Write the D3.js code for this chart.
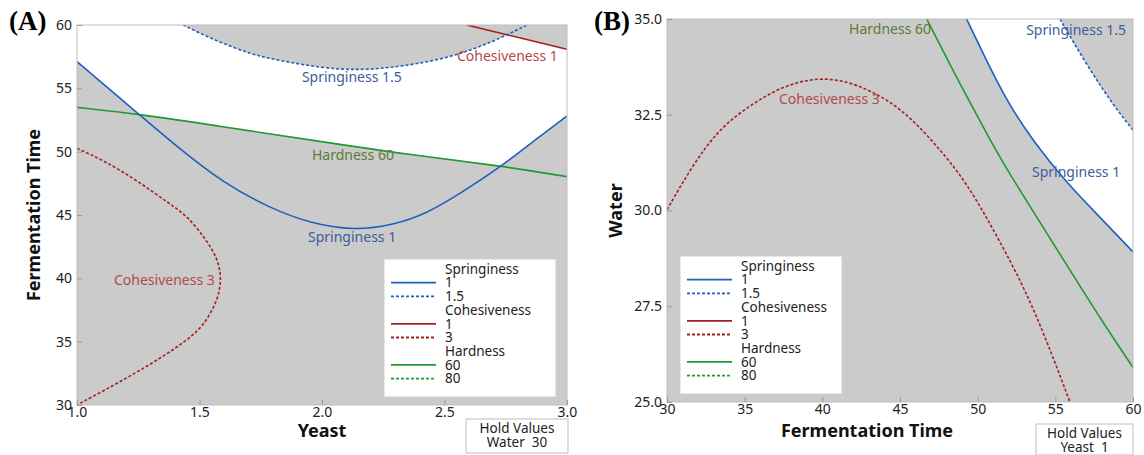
<!DOCTYPE html>
<html lang="en">
<head>
  <meta charset="UTF-8" />
  <title>Contour overlay plots</title>
  <style>
    body { margin: 0; background: #fff; }
  </style>
  <script src="https://d3js.org/d3.v7.min.js"></script>
</head>
<body>
  <script>
    // ---- data ----
    // panel A: [yeast, fermentation time], water held at 30
    const aSpring1 = [[1.0, 57.1], [1.252, 52.97], [1.408, 50.39], [1.599, 47.5], [1.789, 45.53],
      [1.952, 44.34], [2.129, 43.77], [2.293, 44.21], [2.429, 45.13], [2.565, 46.71],
      [2.735, 48.87], [2.878, 51.05], [3.0, 52.82]];
    const aSpring15 = [[1.433, 60], [1.558, 58.82], [1.719, 57.63], [1.816, 57.24], [2.005, 56.58],
      [2.143, 56.45], [2.264, 56.58], [2.497, 57.24], [2.7, 58.68], [2.836, 60]];
    const aCohes1 = [[2.591, 60], [2.741, 59.29], [3.0, 58.08]];
    const aCohes3 = [[1.0, 50.26], [1.106, 49.34], [1.243, 47.76], [1.365, 46.05], [1.447, 45.0],
      [1.529, 43.03], [1.576, 41.45], [1.59, 40.0], [1.576, 38.29], [1.515, 36.18],
      [1.44, 35.0], [1.351, 33.82], [1.202, 32.1], [1.0, 30.0]];
    const aHard60 = [[1.0, 53.5], [1.252, 52.97], [1.612, 51.92], [1.952, 50.92], [2.361, 49.74],
      [2.735, 48.87], [3.0, 48.03]];

    // panel B: [fermentation time, water], yeast held at 1
    const bSpring1 = [[49.29, 35], [50.5, 33.97], [51.9, 32.84], [53.58, 31.8], [55.73, 30.72],
      [57.88, 29.82], [60, 28.92]];
    const bSpring15 = [[55.3, 35], [57.02, 33.8], [58.73, 32.75], [60, 32.1]];
    const bCohes3 = [[30, 30.02], [31.67, 31.2], [33.39, 32.15], [35.54, 32.81], [37.68, 33.29],
      [40.04, 33.5], [42.4, 33.29], [45.0, 32.71], [47.15, 31.8], [49.29, 30.75],
      [51.44, 29.19], [53.58, 27.53], [55.94, 25.0]];
    const bHard60 = [[46.72, 35], [48.22, 33.8], [49.94, 32.49], [51.44, 31.36], [53.58, 29.97],
      [55.73, 28.58], [57.88, 27.19], [60, 25.9]];

    const aXTicks = [1.0, 1.5, 2.0, 2.5, 3.0];
    const aYTicks = [30, 35, 40, 45, 50, 55, 60];
    const bXTicks = [30, 35, 40, 45, 50, 55, 60];
    const bYTicks = [25.0, 27.5, 30.0, 32.5, 35.0];

    const legendGroups = ["Springiness", "Cohesiveness", "Hardness"];
    const legendLevels = [["1", "1.5"], ["1", "3"], ["60", "80"]];

    // contour labels: [text, x, y] in data units (text start, baseline)
    const aLabels = [["Springiness 1.5", 1.918, 55.5, "spring"], ["Cohesiveness 1", 2.551, 57.16, "cohes"],
      ["Hardness 60", 1.959, 49.34, "hard"], ["Springiness 1", 1.943, 42.87, "spring"],
      ["Cohesiveness 3", 1.151, 39.47, "cohes"]];
    const bLabels = [["Hardness 60", 41.72, 34.61, "hard"], ["Cohesiveness 3", 37.21, 32.78, "cohes"],
      ["Springiness 1.5", 53.12, 34.58, "spring"], ["Springiness 1", 53.5, 30.87, "spring"]];

    const lineColor = { spring: "#1f5fbf", cohes: "#a51f1f", hard: "#1f9a30" };
    const labelColor = { spring: "#3d5d9b", cohes: "#b24a4a", hard: "#5c7a36" };
    const dash = "3,2";
    const grey = "#cbcbcb";
    const sans = "'Noto Sans', sans-serif";

    const svg = d3.select("body").append("svg")
      .attr("width", 1144)
      .attr("height", 455)
      .style("font-family", sans);
    const defs = svg.append("defs");

    function panel(cfg) {
      const x = d3.scaleLinear().domain(cfg.xDomain).range([cfg.left, cfg.left + cfg.w]);
      const y = d3.scaleLinear().domain(cfg.yDomain).range([cfg.top + cfg.h, cfg.top]);
      const line = d3.line().x(d => x(d[0])).y(d => y(d[1])).curve(d3.curveBasis);
      const g = svg.append("g");

      g.append("rect")
        .attr("x", cfg.left).attr("y", cfg.top)
        .attr("width", cfg.w).attr("height", cfg.h)
        .attr("fill", grey);

      // white area = intersection of nested clip regions
      let holder = g;
      cfg.regions.forEach((r, i) => {
        const id = cfg.id + "clip" + i;
        const d = line(r.pts) + r.corners.map(c => "L" + x(c[0]) + "," + y(c[1])).join("") + "Z";
        defs.append("clipPath").attr("id", id).append("path").attr("d", d);
        holder = holder.append("g").attr("clip-path", "url(#" + id + ")");
      });
      holder.append("rect")
        .attr("x", cfg.left).attr("y", cfg.top)
        .attr("width", cfg.w).attr("height", cfg.h)
        .attr("fill", "#fff");

      // contour lines
      const plotClip = cfg.id + "plot";
      defs.append("clipPath").attr("id", plotClip).append("rect")
        .attr("x", cfg.left).attr("y", cfg.top).attr("width", cfg.w).attr("height", cfg.h);
      const lines = g.append("g").attr("clip-path", "url(#" + plotClip + ")");
      cfg.curves.forEach(c => {
        lines.append("path")
          .attr("d", line(c.pts))
          .attr("fill", "none")
          .attr("stroke", lineColor[c.kind])
          .attr("stroke-width", 1.6)
          .attr("stroke-dasharray", c.dashed ? dash : null);
      });

      g.append("rect")
        .attr("x", cfg.left).attr("y", cfg.top)
        .attr("width", cfg.w).attr("height", cfg.h)
        .attr("fill", "none").attr("stroke", "#bdbdbd");

      // contour labels
      g.selectAll(".clab").data(cfg.labels).enter().append("text")
        .attr("x", d => x(d[1])).attr("y", d => y(d[2]))
        .attr("font-size", 14)
        .attr("fill", d => labelColor[d[3]])
        .text(d => d[0]);

      // axes (ticks drawn inside)
      const xa = g.append("g")
        .attr("transform", "translate(0," + (cfg.top + cfg.h) + ")")
        .call(d3.axisBottom(x).tickValues(cfg.xTicks).tickFormat(cfg.xFmt).tickSize(-5).tickPadding(2));
      const ya = g.append("g")
        .attr("transform", "translate(" + cfg.left + ",0)")
        .call(d3.axisLeft(y).tickValues(cfg.yTicks).tickFormat(cfg.yFmt).tickSize(-5).tickPadding(5));
      [xa, ya].forEach(a => {
        a.select(".domain").remove();
        a.selectAll(".tick line").attr("stroke", "#9a9a9a");
        a.selectAll(".tick text").attr("font-size", 14).attr("fill", "#222")
          .attr("font-family", sans);
      });

      // axis titles
      g.append("text")
        .attr("x", cfg.left + cfg.w / 2 + cfg.xTitleShift).attr("y", 437)
        .attr("text-anchor", "middle").attr("font-size", 18).attr("font-weight", "bold")
        .attr("fill", "#111")
        .text(cfg.xTitle);
      g.append("text")
        .attr("transform", "translate(" + cfg.yTitleX + "," + (cfg.top + cfg.h / 2) + ") rotate(-90)")
        .attr("text-anchor", "middle").attr("font-size", 18).attr("font-weight", "bold")
        .attr("fill", "#111")
        .text(cfg.yTitle);

      // panel tag
      g.append("text")
        .attr("x", cfg.tagX).attr("y", 30)
        .style("font-family", "'Liberation Serif', 'Times New Roman', serif")
        .attr("font-size", 27).attr("font-weight", "bold")
        .text(cfg.tag);

      // legend
      const lg = g.append("g").attr("transform", "translate(" + cfg.legX + "," + cfg.legY + ")");
      lg.append("rect").attr("width", cfg.legW).attr("height", 138)
        .attr("fill", "#fff").attr("stroke", "#d0d0d0");
      const kinds = ["spring", "cohes", "hard"];
      const rowH = 13.7;
      legendGroups.forEach((name, gi) => {
        const base = 10 + gi * 3 * rowH;
        lg.append("text").attr("x", 61).attr("y", base).attr("dy", "0.35em").attr("font-size", 13.5)
          .attr("fill", "#222").text(name);
        legendLevels[gi].forEach((lev, li) => {
          const yy = base + (li + 1) * rowH;
          lg.append("line").attr("x1", 7).attr("x2", 52).attr("y1", yy).attr("y2", yy)
            .attr("stroke", lineColor[kinds[gi]]).attr("stroke-width", 1.8)
            .attr("stroke-dasharray", li === 1 ? dash : null);
          lg.append("text").attr("x", 61).attr("y", yy).attr("dy", "0.35em").attr("font-size", 13.5)
            .attr("fill", "#222").text(lev);
        });
      });

      // hold values box
      const hb = g.append("g").attr("transform", "translate(" + cfg.holdX + "," + cfg.holdY + ")");
      hb.append("rect").attr("width", cfg.holdW).attr("height", cfg.holdH)
        .attr("fill", "#fff").attr("stroke", "#bdbdbd");
      hb.append("text").attr("x", cfg.holdW / 2).attr("y", 9).attr("dy", "0.35em").attr("text-anchor", "middle")
        .attr("font-size", 13.5).attr("fill", "#222").text("Hold Values");
      hb.append("text").attr("x", cfg.holdW / 2).attr("y", 23).attr("dy", "0.35em").attr("text-anchor", "middle")
        .attr("font-size", 13.5).attr("fill", "#222").attr("xml:space", "preserve").text(cfg.holdText);
    }

    panel({
      id: "a", tag: "(A)", tagX: 9,
      left: 77, top: 25, w: 490, h: 380,
      xDomain: [1, 3], yDomain: [30, 60],
      xTicks: aXTicks, yTicks: aYTicks, xFmt: d3.format(".1f"), yFmt: d3.format("d"),
      xTitle: "Yeast", xTitleShift: 0, yTitle: "Fermentation Time", yTitleX: 40,
      regions: [
        { pts: aSpring1, corners: [[3, 60], [1, 60]] },
        { pts: aHard60, corners: [[3, 60], [1, 60]] },
        { pts: aSpring15, corners: [[3, 60], [3, 30], [1, 30], [1, 60]] },
        { pts: aCohes1, corners: [[3, 30], [1, 30], [1, 60]] }
      ],
      curves: [
        { pts: aHard60, kind: "hard" },
        { pts: aCohes3, kind: "cohes", dashed: true },
        { pts: aCohes1, kind: "cohes" },
        { pts: aSpring15, kind: "spring", dashed: true },
        { pts: aSpring1, kind: "spring" }
      ],
      labels: aLabels,
      legX: 384, legY: 259, legW: 172,
      holdX: 466, holdY: 419, holdW: 102, holdH: 34, holdText: "Water  30"
    });

    panel({
      id: "b", tag: "(B)", tagX: 594,
      left: 667, top: 19, w: 466, h: 383,
      xDomain: [30, 60], yDomain: [25, 35],
      xTicks: bXTicks, yTicks: bYTicks, xFmt: d3.format("d"), yFmt: d3.format(".1f"),
      xTitle: "Fermentation Time", xTitleShift: -33, yTitle: "Water", yTitleX: 622,
      regions: [
        { pts: bSpring1, corners: [[60, 35]] },
        { pts: bSpring15, corners: [[60, 25], [30, 25], [30, 35]] }
      ],
      curves: [
        { pts: bCohes3, kind: "cohes", dashed: true },
        { pts: bHard60, kind: "hard" },
        { pts: bSpring15, kind: "spring", dashed: true },
        { pts: bSpring1, kind: "spring" }
      ],
      labels: bLabels,
      legX: 680, legY: 256, legW: 162,
      holdX: 1036, holdY: 424, holdW: 97, holdH: 31, holdText: "Yeast  1"
    });
  </script>
</body>
</html>
